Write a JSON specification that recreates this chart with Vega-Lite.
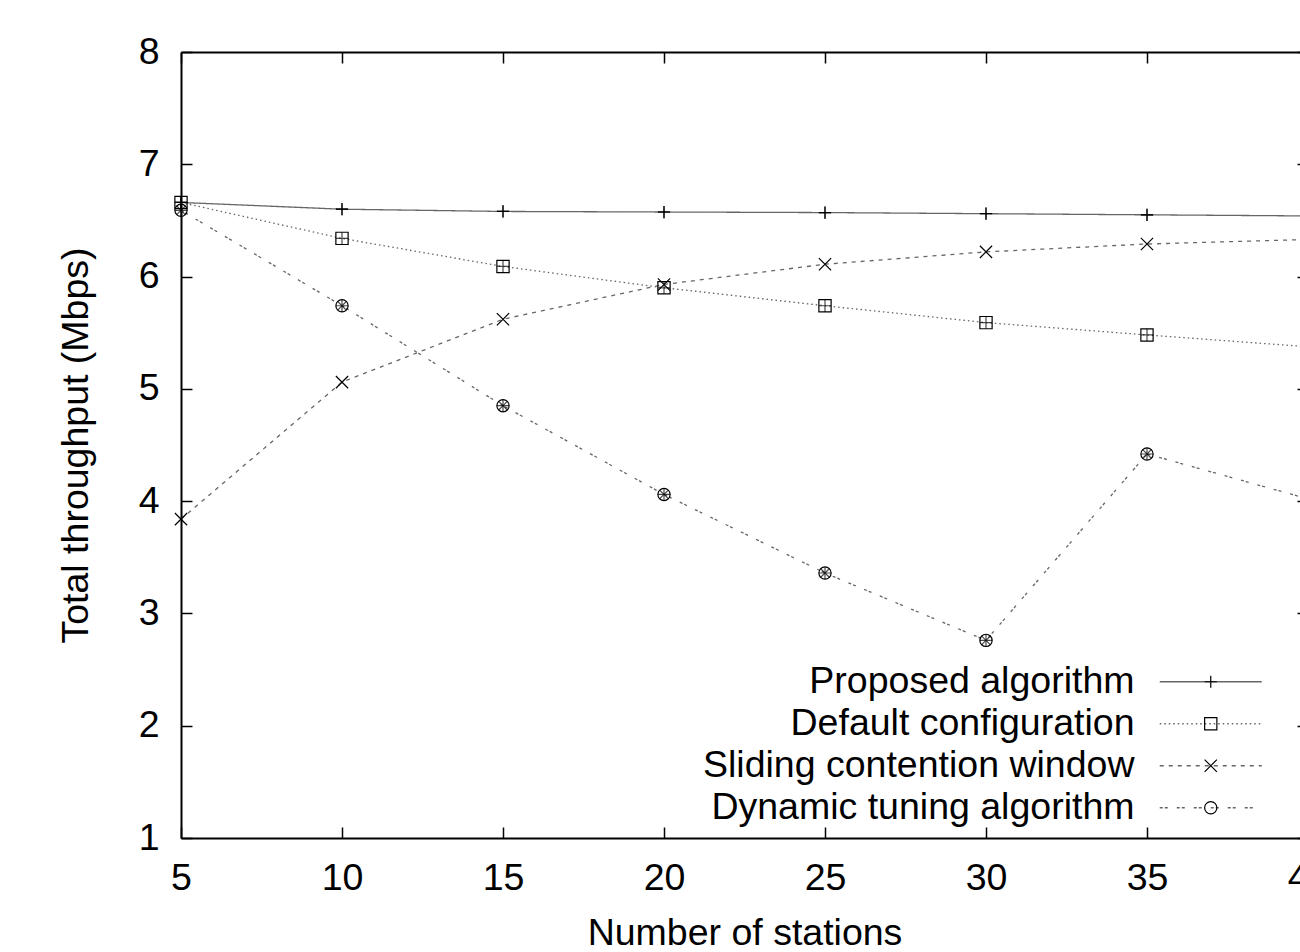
{
  "$schema": "https://vega.github.io/schema/vega-lite/v6.json",
  "autosize": {"type": "none"},
  "padding": {"left": 181, "top": 52, "right": -8, "bottom": 114},
  "width": 1127,
  "height": 786,
  "background": "white",
  "config": {
    "view": {"stroke": null},
    "font": "Liberation Sans",
    "axis": {"grid": false, "domainColor": "black", "domainWidth": 2, "tickColor": "black", "tickWidth": 1.5, "labelFont": "Liberation Sans", "titleFont": "Liberation Sans", "labelFontSize": 37.5, "titleFontSize": 37.5, "labelColor": "black", "titleColor": "black", "titleFontWeight": "normal", "labelFlush": false}
  },
  "data": {"values": [
    {"x": 5, "y": 6.66, "s": "Proposed algorithm"},
    {"x": 10, "y": 6.60, "s": "Proposed algorithm"},
    {"x": 15, "y": 6.58, "s": "Proposed algorithm"},
    {"x": 20, "y": 6.575, "s": "Proposed algorithm"},
    {"x": 25, "y": 6.57, "s": "Proposed algorithm"},
    {"x": 30, "y": 6.56, "s": "Proposed algorithm"},
    {"x": 35, "y": 6.55, "s": "Proposed algorithm"},
    {"x": 40, "y": 6.54, "s": "Proposed algorithm"},
    {"x": 5, "y": 6.66, "s": "Default configuration"},
    {"x": 10, "y": 6.34, "s": "Default configuration"},
    {"x": 15, "y": 6.09, "s": "Default configuration"},
    {"x": 20, "y": 5.90, "s": "Default configuration"},
    {"x": 25, "y": 5.74, "s": "Default configuration"},
    {"x": 30, "y": 5.59, "s": "Default configuration"},
    {"x": 35, "y": 5.48, "s": "Default configuration"},
    {"x": 40, "y": 5.375, "s": "Default configuration"},
    {"x": 5, "y": 3.84, "s": "Sliding contention window"},
    {"x": 10, "y": 5.06, "s": "Sliding contention window"},
    {"x": 15, "y": 5.62, "s": "Sliding contention window"},
    {"x": 20, "y": 5.93, "s": "Sliding contention window"},
    {"x": 25, "y": 6.11, "s": "Sliding contention window"},
    {"x": 30, "y": 6.22, "s": "Sliding contention window"},
    {"x": 35, "y": 6.29, "s": "Sliding contention window"},
    {"x": 40, "y": 6.33, "s": "Sliding contention window"},
    {"x": 5, "y": 6.59, "s": "Dynamic tuning algorithm"},
    {"x": 10, "y": 5.74, "s": "Dynamic tuning algorithm"},
    {"x": 15, "y": 4.85, "s": "Dynamic tuning algorithm"},
    {"x": 20, "y": 4.06, "s": "Dynamic tuning algorithm"},
    {"x": 25, "y": 3.36, "s": "Dynamic tuning algorithm"},
    {"x": 30, "y": 2.76, "s": "Dynamic tuning algorithm"},
    {"x": 35, "y": 4.42, "s": "Dynamic tuning algorithm"},
    {"x": 40, "y": 4.02, "s": "Dynamic tuning algorithm"}
  ]},
  "layer": [
    {
      "mark": {"type": "line", "stroke": "#666", "strokeWidth": 1.3},
      "encoding": {
        "x": {"field": "x", "type": "quantitative", "scale": {"domain": [5, 40], "nice": false, "zero": false},
              "axis": {"orient": "bottom", "values": [5, 10, 15, 20, 25, 30, 35, 40], "tickSize": -11, "labelPadding": 32, "title": "Number of stations", "titlePadding": 18}},
        "y": {"field": "y", "type": "quantitative", "scale": {"domain": [1, 8], "nice": false, "zero": false},
              "axis": {"orient": "left", "values": [1, 2, 3, 4, 5, 6, 7, 8], "tickSize": -11, "labelPadding": 33, "title": "Total throughput (Mbps)", "titlePadding": 43}},
        "strokeDash": {"field": "s", "type": "nominal",
          "scale": {"domain": ["Proposed algorithm", "Default configuration", "Sliding contention window", "Dynamic tuning algorithm"],
                    "range": [[1, 0], [1.5, 3], [4, 5], [3, 2, 3, 9]]},
          "legend": {"title": null, "orient": "none", "legendX": 1011, "legendY": 611, "padding": 0, "symbolType": "M-4.08,0L4.08,0", "symbolSize": 625, "symbolStrokeWidth": 1.3, "symbolStrokeColor": "#666", "labelAlign": "right", "labelOffset": -95, "labelFontSize": 37.5, "labelFont": "Liberation Sans", "labelColor": "black", "rowPadding": 3, "labelLimit": 0}
        }
      }
    },
    {
      "mark": {"type": "point", "filled": false, "stroke": "black", "strokeWidth": 1.2, "opacity": 1},
      "encoding": {
        "x": {"field": "x", "type": "quantitative", "axis": {"orient": "top", "values": [5, 10, 15, 20, 25, 30, 35, 40], "tickSize": -11, "labels": false, "title": null}},
        "y": {"field": "y", "type": "quantitative", "axis": {"orient": "right", "values": [1, 2, 3, 4, 5, 6, 7, 8], "tickSize": -11, "labels": false, "title": null}},
        "shape": {"field": "s", "type": "nominal",
          "scale": {"domain": ["Dynamic tuning algorithm", "Sliding contention window", "Default configuration", "Proposed algorithm"],
                    "range": ["circle", "M-1,-1L1,1M-1,1L1,-1", "square", "M-1,0L1,0M0,-1L0,1"]},
          "legend": {"title": null, "orient": "none", "legendX": 1011, "legendY": 611, "padding": 0, "values": ["Proposed algorithm", "Default configuration", "Sliding contention window", "Dynamic tuning algorithm"], "symbolSize": 150, "symbolStrokeWidth": 1.2, "symbolStrokeColor": "black", "symbolFillColor": "transparent", "labelExpr": "' '", "labelFontSize": 37.5, "labelFont": "Liberation Sans", "rowPadding": 3}
        },
        "size": {"value": 150}
      }
    },
    {
      "transform": [{"filter": "datum.s !== 'Sliding contention window'"}],
      "mark": {"type": "point", "filled": false, "stroke": "black", "strokeWidth": 1.2, "shape": "M-1,0L1,0M0,-1L0,1", "size": 150},
      "encoding": {
        "x": {"field": "x", "type": "quantitative", "axis": null},
        "y": {"field": "y", "type": "quantitative", "axis": null}
      }
    },
    {
      "transform": [{"filter": "datum.s === 'Dynamic tuning algorithm'"}],
      "mark": {"type": "point", "filled": false, "stroke": "black", "strokeWidth": 1.2, "shape": "M-0.7,-0.7L0.7,0.7M-0.7,0.7L0.7,-0.7", "size": 150},
      "encoding": {
        "x": {"field": "x", "type": "quantitative", "axis": null},
        "y": {"field": "y", "type": "quantitative", "axis": null}
      }
    }
  ]
}
